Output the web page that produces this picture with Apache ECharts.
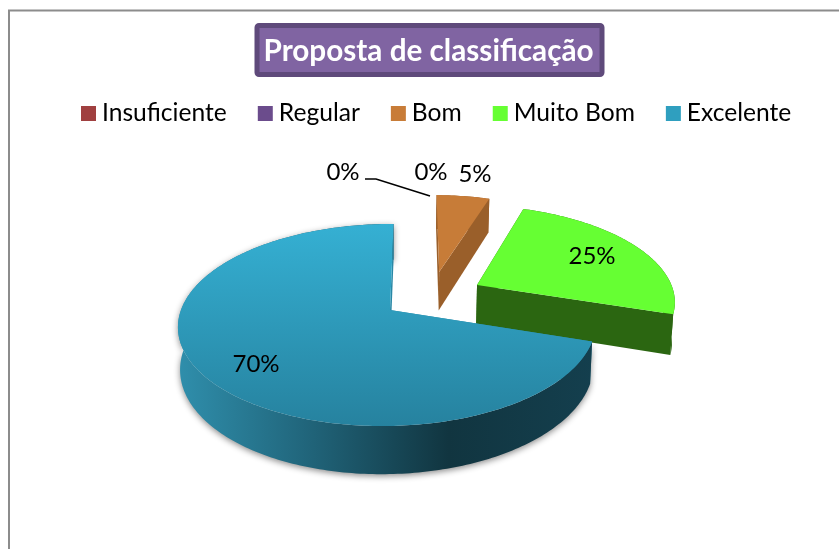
<!DOCTYPE html>
<html>
<head>
<meta charset="utf-8">
<style>html,body{margin:0;padding:0;background:#fff;overflow:hidden}#chart{width:839px;height:549px}</style>
<script src="https://cdn.jsdelivr.net/npm/echarts@6/dist/echarts.min.js"></script>
</head>
<body>
<div id="chart"></div>
<script>
// dados
const categories = ['Insuficiente', 'Regular', 'Bom', 'Muito Bom', 'Excelente'];
const values = [0, 0, 5, 25, 70];
const legendColors = ['#A04040', '#6B4C8C', '#C87C38', '#66FF33', '#2F9FBF'];

// pseudo 3D: perspectiva do plano da tarte
const view = { cx: 390, cy: 310, a: 206.5, b: 98.8, p: 0.1485, q: 0.012, skew: -0.02, depth: 41 };
// deslocamento de cada fatia no plano (explosão)
const explode = [[0, 0], [0, 0], [0.245, -0.41], [0.435, -0.265], [0, 0]];
const labelPos = [[343, 172], [431, 172], [475, 174], [592, 256], [256, 364]];
const total = values.reduce((s, v) => s + v, 0);

function project(u, v, low) {
	const w = 1 + view.q * u - view.p * v;
	let x = view.cx + view.a * (u / w + view.skew * v / w);
	let y = view.cy + view.b * v / w;
	if (low) {
		x = view.cx + (x - view.cx) * 0.99;
		y += view.depth / w;
	}
	return [x, y];
}
function rim(idx, deg, low) {
	const t = deg * Math.PI / 180;
	const e = explode[idx];
	return project(e[0] + Math.sin(t), e[1] - Math.cos(t), low);
}
function arcPoints(idx, from, to, low) {
	const pts = [];
	const n = Math.max(2, Math.ceil(Math.abs(to - from)));
	for (let i = 0; i <= n; i++) pts.push(rim(idx, from + (to - from) * i / n, low));
	return pts;
}
function poly(points, fill, extra) {
	return { type: 'polygon', shape: { points: points }, style: Object.assign({ fill: fill }, extra || {}) };
}
function gradient(x, y, x2, y2, stops) {
	return {
		type: 'linear', x: x, y: y, x2: x2, y2: y2, global: true,
		colorStops: stops.map(s => ({ offset: s[0], color: s[1] }))
	};
}

const faces = {
	2: { top: '#C77C38', side: '#9A5F2A', cut: '#9A5F2A' },
	3: { top: '#66FF33', side: '#2B6611', cut: '#2B6611' },
	4: {
		top: gradient(0, 224, 0, 426, [[0, '#35B0D3'], [1, '#26829F']]),
		side: gradient(180, 0, 593, 0, [[0, '#2F8EAB'], [0.3, '#21667C'], [0.65, '#113540'], [1, '#143F4E']]),
		cut: '#2A88A6'
	}
};

function renderSlice(idx) {
	return function (params, api) {
		const children = [];
		const val = api.value(0);
		const start = values.slice(0, idx).reduce((s, v) => s + v, 0) / total * 360;
		const end = start + val / total * 360;
		if (val > 0) {
			const f = faces[idx];
			const apex = project(explode[idx][0], explode[idx][1], false);
			const apexLow = project(explode[idx][0], explode[idx][1], true);
			const shadow = idx === 4 ? { shadowBlur: 6, shadowColor: 'rgba(0,0,0,0.45)', shadowOffsetY: 2 } : {};
			// corte de trás, lado exterior, corte da frente, tampo
			children.push(poly([apex, rim(idx, start, false), rim(idx, start, true), apexLow], f.cut));
			children.push(poly(arcPoints(idx, start, end, false).concat(arcPoints(idx, end, start, true)), f.side, shadow));
			children.push(poly([apex, rim(idx, end, false), rim(idx, end, true), apexLow], f.cut));
			children.push(poly([apex].concat(arcPoints(idx, start, end, false)), f.top));
		}
		if (idx === 0) {
			children.push({
				type: 'polyline',
				shape: { points: [[365, 179], [376, 179], [430, 196]] },
				style: { stroke: '#000', lineWidth: 1.5, fill: null }
			});
		}
		children.push({
			type: 'text',
			style: {
				text: Math.round(val / total * 100) + '%',
				x: labelPos[idx][0], y: labelPos[idx][1],
				align: 'center', verticalAlign: 'middle',
				font: '24px Lato, "Noto Sans", sans-serif', fill: '#000'
			}
		});
		return { type: 'group', children: children };
	};
}

const chart = echarts.init(document.getElementById('chart'), null, { renderer: 'canvas' });
chart.setOption({
	animation: false,
	backgroundColor: '#fff',
	graphic: [{
		type: 'rect', silent: true, z: -1,
		shape: { x: 9, y: 10.5, width: 900, height: 600 },
		style: { fill: 'none', stroke: '#8C8C8C', lineWidth: 2 }
	}],
	title: {
		text: 'Proposta de classificação',
		left: 256.5, top: 25,
		padding: [11, 9, 9, 7],
		backgroundColor: '#8064A2',
		borderColor: '#5F4A7B',
		borderWidth: 5,
		borderRadius: 2,
		textStyle: { color: '#fff', fontWeight: 'bold', fontFamily: 'Lato, "Noto Sans", sans-serif', fontSize: 29.7 }
	},
	legend: {
		left: 81, top: 101,
		padding: 0,
		itemWidth: 15, itemHeight: 15, itemGap: 31,
		icon: 'rect',
		data: categories,
		textStyle: { color: '#000', fontFamily: 'Lato, "Noto Sans", sans-serif', fontSize: 24.6, padding: [0, 0, 0, 1] }
	},
	series: categories.map((name, idx) => ({
		type: 'custom',
		name: name,
		coordinateSystem: 'none',
		silent: true,
		itemStyle: { color: legendColors[idx] },
		renderItem: renderSlice(idx),
		data: [values[idx]]
	}))
});
</script>
</body>
</html>
